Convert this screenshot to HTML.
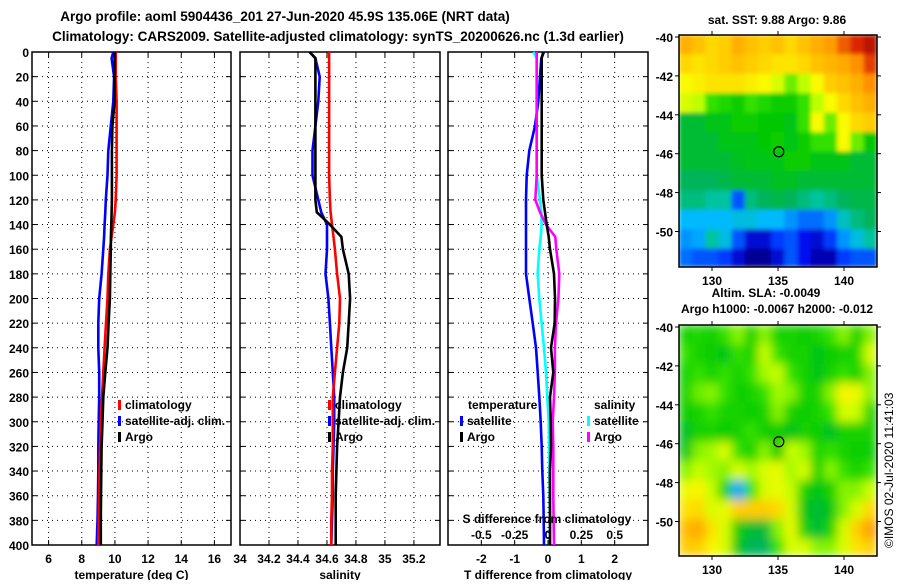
<!DOCTYPE html>
<html><head><meta charset="utf-8"><style>
html,body{margin:0;padding:0;background:#fff;}
svg text{font-family:"Liberation Sans",Arial,sans-serif;font-weight:bold;fill:#000;}
</style></head><body>
<svg id="chart" width="900" height="580" viewBox="0 0 900 580" xmlns="http://www.w3.org/2000/svg">
<defs>
<filter id="blur" x="0" y="0" width="100%" height="100%"><feGaussianBlur stdDeviation="5" edgeMode="duplicate"/></filter>
<filter id="blur2" x="0" y="0" width="100%" height="100%"><feGaussianBlur stdDeviation="2" edgeMode="duplicate"/></filter>
<clipPath id="clipTop"><rect x="679" y="35" width="198" height="232"/></clipPath>
<clipPath id="clipBot"><rect x="679" y="325" width="198" height="231"/></clipPath>
</defs>
<text x="285" y="21" font-size="13.5" text-anchor="middle">Argo profile: aoml 5904436_201 27-Jun-2020 45.9S 135.06E (NRT data)</text>
<text x="338" y="41" font-size="13.5" text-anchor="middle">Climatology: CARS2009. Satellite-adjusted climatology: synTS_20200626.nc (1.3d earlier)</text>
<g id="plots"></g>
<text transform="translate(893,548) rotate(-90)" font-size="12" style="font-weight:normal">©IMOS 02-Jul-2020 11:41:03</text>
</svg>
<script>
// ---- data ----
const depths = [0,5,20,40,60,80,100,120,130,140,150,160,180,200,220,240,260,280,300,320,340,360,380,400];
const tempClim = [10.05,10.05,10.05,10.1,10.1,10.1,10.1,10.05,10.0,9.9,9.8,9.7,9.6,9.55,9.46,9.38,9.3,9.22,9.15,9.1,9.07,9.05,9.02,9.0];
const tempArgo = [10.0,9.98,9.98,9.98,9.85,9.82,9.82,9.82,9.8,9.78,9.76,9.75,9.72,9.7,9.62,9.55,9.42,9.3,9.25,9.2,9.18,9.16,9.15,9.15];
const tempSat = [9.9,9.8,9.95,9.9,9.75,9.6,9.55,9.45,9.42,9.38,9.35,9.3,9.2,9.05,9.0,9.0,9.05,9.05,9.02,9.0,9.0,8.98,8.95,8.9];
const salClim = [34.615,34.615,34.615,34.615,34.615,34.615,34.615,34.62,34.625,34.635,34.645,34.655,34.67,34.69,34.685,34.67,34.655,34.64,34.64,34.64,34.635,34.635,34.63,34.63];
const salArgo = [34.48,34.52,34.52,34.52,34.52,34.52,34.52,34.52,34.53,34.62,34.70,34.71,34.75,34.76,34.75,34.74,34.71,34.69,34.68,34.67,34.665,34.66,34.66,34.66];
const salSat = [34.48,34.52,34.55,34.54,34.52,34.5,34.5,34.54,34.56,34.6,34.6,34.6,34.59,34.61,34.62,34.63,34.64,34.65,34.65,34.645,34.64,34.64,34.635,34.63];
const dTArgo = [-0.14,-0.19,-0.19,-0.19,-0.19,-0.19,-0.19,-0.14,-0.09,-0.04,0.02,0.06,0.18,0.21,0.2,0.09,0.16,0.06,0.08,0.09,0.06,0.06,0.06,0.06];
const dTSat = [-0.12,-0.2,-0.24,-0.29,-0.39,-0.56,-0.64,-0.66,-0.66,-0.66,-0.66,-0.66,-0.66,-0.56,-0.46,-0.36,-0.31,-0.26,-0.22,-0.19,-0.17,-0.14,-0.13,-0.12];
const dSSat = [-0.11,-0.085,-0.085,-0.085,-0.085,-0.085,-0.085,-0.06,-0.05,-0.048,-0.055,-0.065,-0.078,-0.065,-0.048,-0.03,-0.015,-0.005,0.005,0.008,0.01,0.012,0.014,0.015];
const dSArgo = [-0.085,-0.085,-0.085,-0.085,-0.085,-0.085,-0.085,-0.095,-0.06,-0.015,0.055,0.062,0.085,0.078,0.06,0.052,0.052,0.045,0.035,0.04,0.04,0.04,0.042,0.045];
const depthTicks = [0,20,40,60,80,100,120,140,160,180,200,220,240,260,280,300,320,340,360,380,400];
const tempTicks = [6,8,10,12,14,16];
const salTicks = [34,34.2,34.4,34.6,34.8,35,35.2];
const salTickLabels = ["34","34.2","34.4","34.6","34.8","35","35.2"];
const dTTicks = [-2,-1,0,1,2];
const dSTicks = [-0.5,-0.25,0,0.25,0.5];
const dSTickLabels = ["-0.5","-0.25","0","0.25","0.5"];
const latTicks = [-40,-42,-44,-46,-48,-50];
const lonTicks = [130,135,140];
const argoLon = 135.06, argoLat = -45.9;
const sstGrid = [
[0.75,0.72,0.68,0.7,0.75,0.72,0.7,0.72,0.68,0.72,0.75,0.78,0.85,0.9,0.95],
[0.68,0.66,0.68,0.7,0.72,0.7,0.68,0.66,0.66,0.68,0.72,0.74,0.76,0.8,0.88],
[0.62,0.64,0.66,0.66,0.66,0.64,0.62,0.58,0.52,0.55,0.62,0.7,0.72,0.75,0.8],
[0.58,0.55,0.5,0.48,0.46,0.5,0.48,0.46,0.46,0.5,0.55,0.62,0.68,0.72,0.75],
[0.42,0.42,0.44,0.44,0.46,0.46,0.45,0.45,0.44,0.5,0.62,0.52,0.62,0.68,0.7],
[0.42,0.42,0.42,0.44,0.44,0.44,0.45,0.46,0.44,0.46,0.5,0.5,0.62,0.52,0.45],
[0.42,0.42,0.42,0.42,0.43,0.44,0.44,0.44,0.46,0.46,0.44,0.44,0.44,0.42,0.42],
[0.4,0.4,0.4,0.41,0.42,0.42,0.42,0.43,0.43,0.42,0.42,0.42,0.42,0.42,0.42],
[0.38,0.38,0.36,0.36,0.2,0.38,0.4,0.41,0.4,0.38,0.36,0.38,0.4,0.41,0.41],
[0.3,0.3,0.3,0.3,0.32,0.32,0.3,0.3,0.26,0.22,0.22,0.26,0.34,0.38,0.4],
[0.26,0.28,0.36,0.32,0.2,0.12,0.12,0.18,0.2,0.14,0.12,0.18,0.26,0.32,0.36],
[0.22,0.2,0.2,0.18,0.12,0.08,0.08,0.12,0.2,0.14,0.1,0.1,0.18,0.2,0.2]];
const slaGrid = [
[0.47,0.48,0.46,0.5,0.53,0.47,0.53,0.47,0.47,0.46,0.47,0.5,0.53,0.47,0.53],
[0.5,0.47,0.46,0.44,0.5,0.47,0.56,0.5,0.47,0.47,0.44,0.46,0.47,0.48,0.58],
[0.47,0.5,0.47,0.5,0.47,0.5,0.54,0.56,0.5,0.47,0.44,0.47,0.5,0.47,0.53],
[0.47,0.52,0.53,0.5,0.46,0.47,0.5,0.54,0.53,0.47,0.47,0.53,0.63,0.6,0.53],
[0.46,0.47,0.5,0.47,0.47,0.46,0.47,0.53,0.47,0.46,0.47,0.5,0.58,0.56,0.47],
[0.43,0.47,0.47,0.46,0.47,0.5,0.46,0.46,0.44,0.47,0.46,0.43,0.47,0.47,0.47],
[0.44,0.53,0.54,0.58,0.5,0.47,0.53,0.46,0.56,0.54,0.47,0.5,0.47,0.46,0.46],
[0.53,0.56,0.54,0.53,0.58,0.54,0.58,0.6,0.54,0.58,0.47,0.53,0.5,0.47,0.5],
[0.6,0.63,0.56,0.47,0.28,0.5,0.58,0.6,0.56,0.47,0.44,0.47,0.53,0.53,0.56],
[0.66,0.68,0.58,0.6,0.7,0.7,0.7,0.68,0.58,0.44,0.42,0.44,0.53,0.58,0.68],
[0.73,0.76,0.66,0.58,0.46,0.42,0.42,0.53,0.6,0.47,0.42,0.47,0.58,0.7,0.78],
[0.7,0.7,0.63,0.58,0.44,0.4,0.4,0.5,0.58,0.58,0.53,0.53,0.58,0.66,0.7]];

const NS='http://www.w3.org/2000/svg';
const root=document.getElementById('plots');
function mk(tag,attrs,parent){const e=document.createElementNS(NS,tag);for(const k in attrs)e.setAttribute(k,attrs[k]);(parent||root).appendChild(e);return e;}
function txt(s,x,y,anchor,size,parent){const t=mk('text',{x:x,y:y,'text-anchor':anchor,'font-size':size},parent);t.textContent=s;return t;}

const PT=52, PB=545;
const yD=d=>PT+d*(PB-PT)/400;

function panel(name,x0,x1,xmin,xmax,ticks,labels,xlabel){
  const g=mk('g',{});
  
  
  const xs=v=>x0+(v-xmin)*(x1-x0)/(xmax-xmin);
  depthTicks.forEach(d=>{const y=yD(d);
    if(d>0&&d<400){const l=mk('line',{x1:x0,x2:x1,y1:y,y2:y,stroke:'#000','stroke-width':1,'stroke-dasharray':'1,4'},g);}
    mk('line',{x1:x0,x2:x0+5,y1:y,y2:y,stroke:'#000'},g);mk('line',{x1:x1-5,x2:x1,y1:y,y2:y,stroke:'#000'},g);
  });
  ticks.forEach((v,i)=>{const x=xs(v);
    if(x>x0+1&&x<x1-1){const l=mk('line',{x1:x,x2:x,y1:PT,y2:PB,stroke:'#000','stroke-width':1,'stroke-dasharray':'1,4'},g);}
    mk('line',{x1:x,x2:x,y1:PT,y2:PT+5,stroke:'#000'},g);mk('line',{x1:x,x2:x,y1:PB-5,y2:PB,stroke:'#000'},g);
    const t=txt(labels[i],x,563,'middle',12,g);
    
    
  });
  const r=mk('rect',{x:x0,y:PT,width:x1-x0,height:PB-PT,fill:'none',stroke:'#000','stroke-width':1.5},g);
  
  
  const xl=txt(xlabel,(x0+x1)/2,579,'middle',12,g);
  
  
  return {g,xs};
}
function series(p,vals,color,name){
  const pts=vals.map((v,i)=>p.xs(v).toFixed(1)+','+yD(depths[i]).toFixed(1)).join(' ');
  const l=mk('polyline',{points:pts,fill:'none',stroke:color,'stroke-width':2.6,'stroke-linejoin':'miter'},p.g);
  
  
}
function legendEntry(g,x,y,color,label,name){
  mk('rect',{x:x,y:y-9,width:3,height:10,fill:color},g);
  const t=txt(label,x+7,y,'start',12,g);
  
  
}
depthTicks.forEach(d=>{const t=txt(String(d),29,yD(d)+5,'end',12);
  
  });

const p1=panel('temperature-panel',32,231,5,17,tempTicks,tempTicks.map(String),'temperature (deg C)');
series(p1,tempSat,'#0000ff','temp-satellite-line');
series(p1,tempClim,'#ff0000','temp-climatology-line');
series(p1,tempArgo,'#000000','temp-argo-line');
legendEntry(p1.g,118,409,'#ff0000','climatology','legend-climatology');
legendEntry(p1.g,118,425,'#0000ff','satellite-adj. clim.','legend-satellite');
legendEntry(p1.g,118,441,'#000000','Argo','legend-argo');

const p2=panel('salinity-panel',240,440,34,35.38,salTicks,salTickLabels,'salinity');
series(p2,salSat,'#0000ff','sal-satellite-line');
series(p2,salClim,'#ff0000','sal-climatology-line');
series(p2,salArgo,'#000000','sal-argo-line');
legendEntry(p2.g,328,409,'#ff0000','climatology','legend-climatology');
legendEntry(p2.g,328,425,'#0000ff','satellite-adj. clim.','legend-satellite');
legendEntry(p2.g,328,441,'#000000','Argo','legend-argo');

const p3=panel('difference-panel',448,648,-3,3,dTTicks,dTTicks.map(String),'T difference from climatology');
const xsS=v=>p3.xs(v*4);
const pS={g:p3.g,xs:xsS};
series(p3,dTSat,'#0000ff','dT-satellite-line');
series(pS,dSSat,'#00ffff','dS-satellite-line');
series(pS,dSArgo,'#ff00ff','dS-argo-line');
series(p3,dTArgo,'#000000','dT-argo-line');
{const t=txt('temperature',468,409,'start',12,p3.g);
 const s=txt('salinity',594,409,'start',12,p3.g);}
legendEntry(p3.g,460,425,'#0000ff','satellite','legend-t-satellite');
legendEntry(p3.g,460,441,'#000000','Argo','legend-t-argo');
legendEntry(p3.g,587,425,'#00ffff','satellite','legend-s-satellite');
legendEntry(p3.g,587,441,'#ff00ff','Argo','legend-s-argo');
{const t=txt('S difference from climatology',547,523,'middle',12,p3.g);}
dSTicks.forEach((v,i)=>{const t=txt(dSTickLabels[i],xsS(v),539,'middle',12,p3.g);
  
  });

// ---- maps ----
const palStops=[[0,[0,0,110]],[0.08,[0,0,150]],[0.15,[0,20,255]],[0.22,[0,110,255]],[0.3,[0,185,255]],[0.36,[0,195,160]],[0.4,[0,180,90]],[0.45,[0,200,0]],[0.5,[50,225,0]],[0.55,[190,255,0]],[0.62,[250,250,0]],[0.7,[255,205,0]],[0.8,[255,145,0]],[0.9,[220,40,0]],[1,[150,0,0]]];
function pal(v){v=Math.max(0,Math.min(1,v));
  for(let i=1;i<palStops.length;i++){if(v<=palStops[i][0]){const a=palStops[i-1],b=palStops[i],t=(v-a[0])/(b[0]-a[0]);
    return 'rgb('+a[1].map((c,k)=>Math.round(c+(b[1][k]-c)*t)).join(',')+')';}}
  return 'rgb(150,0,0)';}
function map(name,top,bottom,lat40y,grid,clip,filt){
  const g=mk('g',{});
  
  
  const x0=679,x1=877,ppd=19.45;
  const xl=lon=>x0+(lon-127.5)*(x1-x0)/15;
  const yl=lat=>lat40y+(-40-lat)*ppd;
  const cg=mk('g',{'clip-path':'url(#'+clip+')'},g);
  const inner=mk('g',{filter:'url(#'+filt+')'},cg);
  grid.forEach((row,ri)=>row.forEach((v,ci)=>{
    const y0=ri===0?top:yl(-40-ri+0.1);
    const y1=ri===grid.length-1?bottom:yl(-40-ri-0.9);
    const c=mk('rect',{x:xl(127.5+ci)-0.3,y:y0-0.3,width:(x1-x0)/15+0.6,height:y1-y0+0.6,fill:pal(v)},inner);
    
    
  }));
  const fr=mk('rect',{x:x0,y:top,width:x1-x0,height:bottom-top,fill:'none',stroke:'#000','stroke-width':1.5},g);
  
  
  latTicks.forEach(l=>{const y=yl(l);mk('line',{x1:x0-4,x2:x0,y1:y,y2:y,stroke:'#000'},g);mk('line',{x1:x1,x2:x1+4,y1:y,y2:y,stroke:'#000'},g);
    const t=txt(String(l),673,y+5,'end',12,g);});
  lonTicks.forEach(l=>{const x=xl(l);mk('line',{x1:x,x2:x,y1:top-4,y2:top,stroke:'#000'},g);mk('line',{x1:x,x2:x,y1:bottom,y2:bottom+4,stroke:'#000'},g);
    const t=txt(String(l),x,bottom+18,'middle',12,g);});
  const c=mk('circle',{cx:xl(argoLon),cy:yl(argoLat),r:5,fill:'none',stroke:'#000','stroke-width':1.2},g);
  
  
}
map('sst-map',35,267,37,sstGrid,'clipTop','blur2');
map('sla-map',325,556,327,slaGrid,'clipBot','blur');
[['sat. SST: 9.88 Argo: 9.86',777,24,'sst-map-title'],['Altim. SLA: -0.0049',766,297,'sla-map-title'],['Argo h1000: -0.0067 h2000: -0.012',777,313,'sla-map-subtitle']].forEach(a=>{
  const t=txt(a[0],a[1],a[2],'middle',12);
  
  });
</script>
</body></html>
